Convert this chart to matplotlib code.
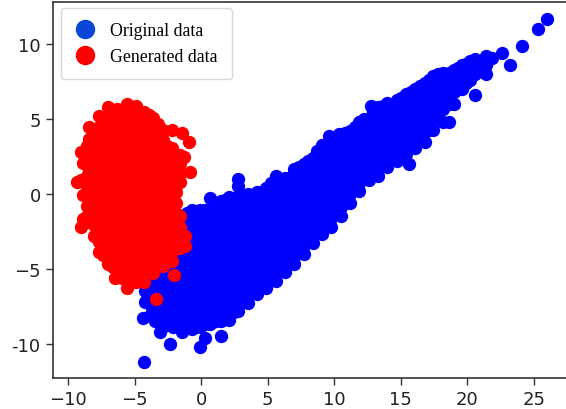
import matplotlib
matplotlib.use("Agg")
import matplotlib.pyplot as plt
from matplotlib.lines import Line2D

# Values: each key is an x position, each list the y values there
blue_columns = {
    -4.4: [-8.3], -4.3: [-11.2], -4.2: [-7.2, -6.5], -3.1: [-9.2], -2.3: [-10.0],
    -3.8: [-8.0, -7.4, -6.7, -6.0],
    -3.5: [-8.5, -7.8, -7.1, -6.4, -5.7],
    -3.15: [-8.5, -7.8, -7.1, -6.4, -5.7],
    -2.8: [-8.8, -8.1, -7.4, -6.7, -6.0, -5.3],
    -2.45: [-8.6, -7.8, -7.1, -6.4, -5.7, -5.0],
    -2.1: [-8.9, -8.2, -7.5, -6.8, -6.1, -5.4, -4.7],
    -1.75: [-8.8, -8.2, -7.5, -6.8, -6.1, -5.4, -4.7],
    -1.4: [-9.2, -8.5, -7.8, -7.1, -6.4, -5.7, -5.0, -4.3, -3.6, -2.9, -2.2, -1.5],
    -1.05: [-8.9, -8.2, -7.5, -6.8, -6.1, -5.4, -4.7, -4.0, -3.3, -2.6, -1.9, -1.3],
    -0.7: [-9.0, -8.2, -7.5, -6.8, -6.1, -5.4, -4.7, -4.0, -3.3, -2.6, -1.9, -1.1],
    -0.4: [-8.7, -8.0, -7.3, -6.6, -5.9, -5.2, -4.5, -3.8, -3.1, -2.4, -1.7],
    -0.1: [-10.2, -8.9, -8.5, -7.8, -7.1, -6.4, -5.7, -5.0, -4.3, -3.6, -2.9, -2.2, -1.5, -1.1],
    0.3: [-9.6, -8.7, -8.0, -7.3, -6.6, -5.9, -5.2, -4.5, -3.8, -3.1, -2.4, -1.7, -1.1],
    0.7: [-8.7, -8.1, -7.4, -6.7, -6.0, -5.3, -4.6, -3.9, -3.2, -2.5, -1.8, -1.1, -0.3],
    1.1: [-8.5, -7.8, -7.1, -6.4, -5.7, -5.0, -4.3, -3.6, -2.9, -2.2, -1.5, -0.8],
    1.5: [-9.5, -8.5, -7.8, -7.1, -6.4, -5.7, -5.0, -4.3, -3.6, -2.9, -2.2, -1.5, -0.8, -0.5],
    1.8: [-8.2, -7.4, -6.7, -6.0, -5.3, -4.6, -3.9, -3.2, -2.5, -1.8, -1.1, -0.4],
    2.1: [-8.4, -7.7, -7.0, -6.3, -5.6, -4.9, -4.2, -3.5, -2.8, -2.1, -1.4, -0.7, -0.2],
    2.45: [-7.9, -7.3, -6.6, -5.9, -5.2, -4.5, -3.8, -3.1, -2.4, -1.7, -1.0, -0.3],
    2.8: [-7.8, -7.2, -6.5, -5.8, -5.1, -4.4, -3.7, -3.0, -2.3, -1.6, -0.9, -0.2, 0.5, 1.0],
    3.15: [-7.2, -6.5, -5.8, -5.1, -4.4, -3.7, -3.0, -2.3, -1.6, -0.9, -0.2],
    3.5: [-7.3, -6.8, -6.1, -5.4, -4.7, -4.0, -3.3, -2.6, -1.9, -1.2, -0.5, 0.0],
    3.85: [-6.6, -5.8, -5.1, -4.4, -3.7, -3.0, -2.3, -1.6, -0.9, -0.2],
    4.2: [-6.7, -6.2, -5.5, -4.8, -4.1, -3.4, -2.7, -2.0, -1.3, -0.6, 0.1],
    4.55: [-6.1, -5.5, -4.8, -4.1, -3.4, -2.7, -2.0, -1.3, -0.6, 0.1],
    4.9: [-6.3, -5.8, -5.1, -4.4, -3.7, -3.0, -2.3, -1.6, -0.9, -0.2, 0.4],
    5.25: [-5.5, -4.8, -4.1, -3.4, -2.7, -2.0, -1.3, -0.6, 0.1, 0.7],
    5.6: [-5.8, -5.2, -4.5, -3.8, -3.1, -2.4, -1.7, -1.0, -0.3, 0.4, 1.2],
    5.95: [-5.0, -4.3, -3.6, -2.9, -2.2, -1.5, -0.8, -0.1, 0.6],
    6.3: [-5.2, -4.8, -4.1, -3.4, -2.7, -2.0, -1.3, -0.6, 0.1, 0.8, 1.1],
    6.65: [-4.5, -3.8, -3.1, -2.4, -1.7, -1.0, -0.3, 0.4, 1.1],
    7.0: [-4.7, -4.2, -3.5, -2.8, -2.1, -1.4, -0.7, 0.0, 0.7, 1.4, 1.7],
    7.35: [-3.8, -3.1, -2.4, -1.7, -1.0, -0.3, 0.4, 1.1, 1.8],
    7.7: [-4.0, -3.4, -2.7, -2.0, -1.3, -0.6, 0.1, 0.8, 1.5, 2.0],
    8.05: [-3.1, -2.4, -1.7, -1.0, -0.3, 0.4, 1.1, 1.8, 2.2],
    8.4: [-3.3, -2.8, -2.1, -1.4, -0.7, 0.0, 0.7, 1.4, 2.1, 2.4],
    8.75: [-2.4, -1.7, -1.0, -0.3, 0.4, 1.1, 1.8, 2.5, 2.9],
    9.1: [-2.7, -2.0, -1.3, -0.6, 0.1, 0.8, 1.5, 2.2, 2.9, 3.3],
    9.45: [-1.7, -1.0, -0.3, 0.4, 1.1, 1.8, 2.5, 3.2],
    9.6: [3.9],
    9.8: [-2.2, -1.6, -0.9, -0.2, 0.5, 1.2, 1.9, 2.6, 3.3],
    10.15: [-1.3, -0.6, 0.1, 0.8, 1.5, 2.2, 2.9, 3.6],
    10.4: [4.0],
    10.5: [-1.5, -0.9, -0.2, 0.5, 1.2, 1.9, 2.6, 3.3, 3.9],
    10.85: [-0.6, 0.1, 0.8, 1.5, 2.2, 2.9, 3.6, 4.1],
    11.2: [-0.6, 0.0, 0.7, 1.4, 2.1, 2.8, 3.5, 4.2],
    11.55: [0.3, 1.0, 1.7, 2.4, 3.1, 3.8, 4.5],
    11.9: [0.2, 0.7, 1.4, 2.1, 2.8, 3.5, 4.2, 4.8],
    12.25: [1.0, 1.7, 2.4, 3.1, 3.8, 4.5, 5.0],
    12.6: [0.9, 1.4, 2.1, 2.8, 3.5, 4.2, 4.9],
    12.8: [5.9],
    12.95: [1.5, 2.2, 2.9, 3.6, 4.3, 5.0, 5.5],
    13.3: [1.2, 1.9, 2.6, 3.3, 4.0, 4.7, 5.4, 5.8],
    13.65: [2.0, 2.7, 3.4, 4.1, 4.8, 5.5, 5.9],
    14.0: [1.8, 2.3, 3.0, 3.7, 4.4, 5.1, 5.8, 6.1],
    14.35: [2.4, 3.1, 3.8, 4.5, 5.2, 5.9],
    14.7: [2.2, 2.8, 3.5, 4.2, 4.9, 5.6, 6.3],
    15.05: [2.9, 3.6, 4.3, 5.0, 5.7, 6.4],
    15.4: [2.7, 3.3, 4.0, 4.7, 5.4, 6.1, 6.7],
    15.6: [2.0],
    15.75: [3.3, 4.0, 4.7, 5.4, 6.1, 6.8],
    16.1: [3.1, 3.7, 4.4, 5.1, 5.8, 6.5, 7.0],
    16.45: [3.7, 4.4, 5.1, 5.8, 6.5, 7.2],
    16.8: [3.5, 4.2, 4.9, 5.6, 6.3, 7.0, 7.4],
    17.1: [4.3, 5.0, 5.7, 6.4, 7.1, 7.6],
    17.4: [4.3, 5.0, 5.7, 6.4, 7.1, 7.9],
    17.8: [5.4, 6.1, 6.8, 7.5, 8.0],
    18.2: [4.8, 5.7, 6.4, 7.1, 7.8, 8.1],
    18.6: [4.8, 6.0, 6.7, 7.4, 8.1],
    19.0: [6.0, 6.8, 7.5, 8.3],
    19.3: [7.1, 7.8, 8.4],
    19.6: [7.0, 7.7, 8.6],
    19.9: [7.4, 8.1, 8.7],
    20.2: [7.6, 8.2, 8.9],
    20.6: [6.6, 8.0, 8.6, 9.0],
    21.0: [8.2, 8.8],
    21.4: [8.0, 8.6, 9.2],
    21.9: [9.1],
    22.6: [9.4],
    23.2: [8.6],
    24.1: [9.9],
    25.3: [11.0],
    26.0: [11.7],
}
red_columns = {
    -9.3: [0.8],
    -9.0: [-2.2, 0.9, 2.8],
    -8.9: [-1.7, -0.1, 2.1],
    -8.6: [-1.5, -0.8, 0.5, 1.2, 2.5, 3.2],
    -8.4: [-1.9, -1.2, -0.5, 0.2, 0.9, 1.6, 2.3, 3.0, 3.7, 4.5],
    -8.05: [-2.8, -2.1, -1.4, -0.7, 0.0, 0.7, 1.4, 2.1, 2.8, 3.5, 4.2],
    -7.7: [-3.9, -3.2, -2.5, -1.8, -1.1, -0.4, 0.3, 1.0, 1.7, 2.4, 3.1, 3.8, 4.5, 5.2],
    -7.35: [-4.1, -3.4, -2.7, -2.0, -1.3, -0.6, 0.1, 0.8, 1.5, 2.2, 2.9, 3.6, 4.3, 5.0],
    -7.0: [-4.7, -4.1, -3.4, -2.7, -2.0, -1.3, -0.6, 0.1, 0.8, 1.5, 2.2, 2.9, 3.6, 4.3, 5.0, 5.8],
    -6.65: [-4.9, -4.2, -3.5, -2.8, -2.1, -1.4, -0.7, 0.0, 0.7, 1.4, 2.1, 2.8, 3.5, 4.2, 4.9, 5.5],
    -6.5: [-5.6],
    -6.3: [-5.0, -4.4, -3.7, -3.0, -2.3, -1.6, -0.9, -0.2, 0.5, 1.2, 1.9, 2.6, 3.3, 4.0, 4.7, 5.4, 5.7],
    -5.95: [-5.6, -4.9, -4.2, -3.5, -2.8, -2.1, -1.4, -0.7, 0.0, 0.7, 1.4, 2.1, 2.8, 3.5, 4.2, 4.9, 5.6],
    -5.6: [-6.3, -5.7, -5.0, -4.3, -3.6, -2.9, -2.2, -1.5, -0.8, -0.1, 0.6, 1.3, 2.0, 2.7, 3.4, 4.1, 4.8, 5.5, 6.0],
    -5.25: [-5.8, -5.1, -4.4, -3.7, -3.0, -2.3, -1.6, -0.9, -0.2, 0.5, 1.2, 1.9, 2.6, 3.3, 4.0, 4.7, 5.4, 5.8],
    -4.9: [-5.9, -5.3, -4.6, -3.9, -3.2, -2.5, -1.8, -1.1, -0.4, 0.3, 1.0, 1.7, 2.4, 3.1, 3.8, 4.5, 5.2, 5.9],
    -4.6: [-5.6, -4.9, -4.2, -3.5, -2.8, -2.1, -1.4, -0.7, 0.0, 0.7, 1.4, 2.1, 2.8, 3.5, 4.2, 4.9, 5.5],
    -4.3: [-5.9, -5.2, -4.5, -3.8, -3.1, -2.4, -1.7, -1.0, -0.3, 0.4, 1.1, 1.8, 2.5, 3.2, 3.9, 4.6, 5.5],
    -3.95: [-5.0, -4.3, -3.6, -2.9, -2.2, -1.5, -0.8, -0.1, 0.6, 1.3, 2.0, 2.7, 3.4, 4.1, 4.8, 5.3],
    -3.6: [-5.3, -4.7, -4.0, -3.3, -2.6, -1.9, -1.2, -0.5, 0.2, 0.9, 1.6, 2.3, 3.0, 3.7, 4.4, 5.1],
    -3.4: [-7.0],
    -3.25: [-4.4, -3.7, -3.0, -2.3, -1.6, -0.9, -0.2, 0.5, 1.2, 1.9, 2.6, 3.3, 4.0, 4.7],
    -2.9: [-4.8, -4.1, -3.4, -2.7, -2.0, -1.3, -0.6, 0.1, 0.8, 1.5, 2.2, 2.9, 3.6, 4.3],
    -2.55: [-4.4, -3.7, -3.0, -2.3, -1.6, -0.9, -0.2, 0.5, 1.2, 1.9, 2.6, 3.2],
    -2.2: [-4.5, -3.8, -3.1, -2.4, -1.7, -1.0, -0.3, 0.4, 1.1, 1.8, 2.5, 3.1, 4.3],
    -2.0: [-5.4],
    -1.9: [-3.4, -2.7, -2.0, -1.3, -0.6, 0.1, 0.8, 1.5, 2.2],
    -1.6: [-3.6, -2.9, -2.2, -1.5, 0.8, 1.4, 2.1, 2.6],
    -1.4: [4.1],
    -1.2: [-3.5, -2.8],
    -1.3: [2.5],
    -0.9: [3.5],
    -0.8: [1.5],
}
x_ticks = [-10, -5, 0, 5, 10, 15, 20, 25]
x_labels = ["\u221210", "\u22125", "0", "5", "10", "15", "20", "25"]
y_ticks = [-10, -5, 0, 5, 10]
y_labels = ["-10", "\u22125", "0", "5", "10"]
series_names = ["Original data", "Generated data"]

blue_x = [x for x, ys in blue_columns.items() for _ in ys]
blue_y = [y for ys in blue_columns.values() for y in ys]
red_x = [x for x, ys in red_columns.items() for _ in ys]
red_y = [y for ys in red_columns.values() for y in ys]

W, H = 566, 410
fig = plt.figure(figsize=(W / 100, H / 100), dpi=100)
ax = fig.add_axes([52.5 / W, 1 - 379 / H, (W - 52.5) / W, (379 - 3) / H])
ax.scatter(blue_x, blue_y, s=92, c="#0000ff", linewidths=0)
ax.scatter(red_x, red_y, s=92, c="#ff0000", linewidths=0)
ax.set_xlim(-11.17, 27.43)
ax.set_ylim(-12.3, 12.83)
ax.set_xticks(x_ticks, x_labels, fontsize=13, color="#222222")
ax.set_yticks(y_ticks, y_labels, fontsize=13, color="#222222")
ax.tick_params(length=5, width=1.0, color="#333333")
for side in ("left", "bottom", "top"):
    ax.spines[side].set_linewidth(1.2)
    ax.spines[side].set_color("#333333")
ax.spines["right"].set_visible(False)

handles = [
    Line2D([], [], ls="", marker="o", ms=13, mfc="#0a47d8", mec="#0a47d8"),
    Line2D([], [], ls="", marker="o", ms=13, mfc="#ff0000", mec="#ff0000"),
]
leg = ax.legend(handles, series_names, loc="upper left",
                bbox_to_anchor=(8 / 513.5, 1 - 6 / 376),
                borderaxespad=0, frameon=True, fancybox=True,
                prop={"family": "Liberation Serif", "size": 12.8},
                labelspacing=0.5, handlelength=1.15, handletextpad=0.85,
                borderpad=0.8, framealpha=1)
leg.get_frame().set_edgecolor("#d8d8d8")
fig.savefig("out.png", dpi=100)
